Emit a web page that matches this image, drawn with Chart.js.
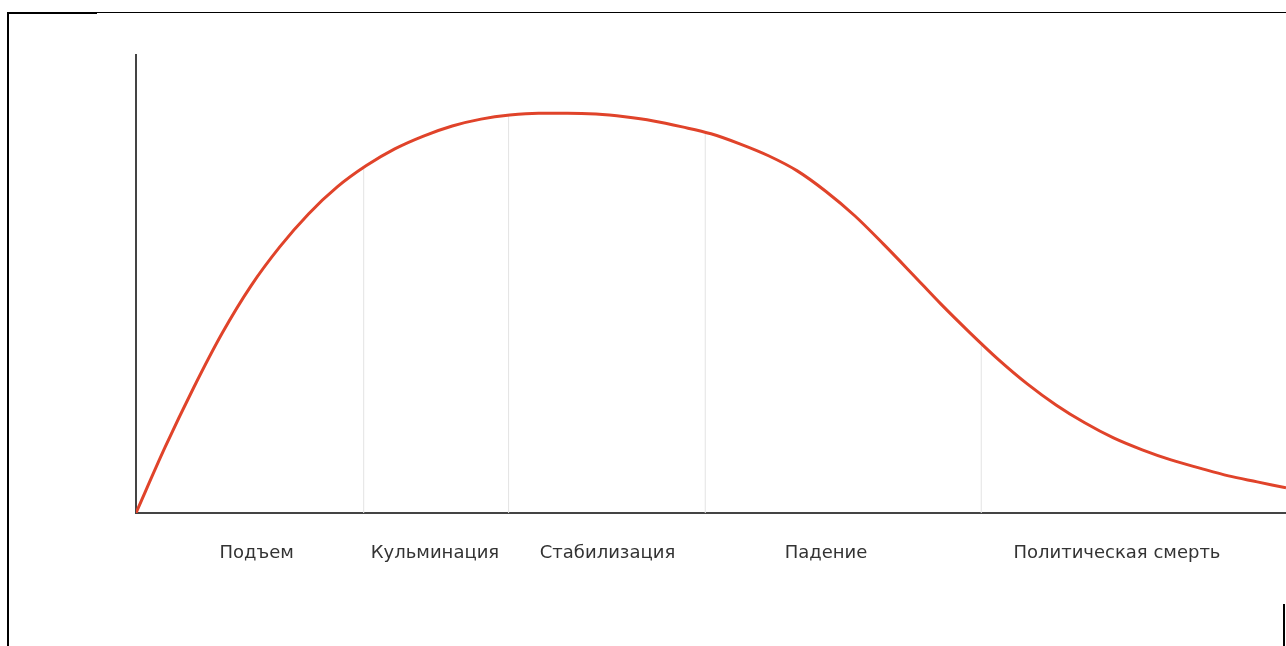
<!DOCTYPE html>
<html lang="ru">
<head>
<meta charset="utf-8">
<title>Политический цикл</title>
<script src="https://cdn.jsdelivr.net/npm/chart.js@4/dist/chart.umd.min.js"></script>
<style>
  html, body { margin: 0; padding: 0; background: #fff; }
  #wrap { position: relative; width: 1286px; height: 646px; overflow: hidden; }
  #cycle { position: absolute; left: 0; top: 0; }
  .frame { position: absolute; background: #000; }
</style>
</head>
<body>
<div id="wrap">
  <canvas id="cycle" width="1286" height="646"></canvas>
  <!-- рамка вокруг картинки -->
  <div class="frame" style="left:7px;top:12px;width:90px;height:2px;"></div>
  <div class="frame" style="left:97px;top:12px;width:1189px;height:1px;"></div>
  <div class="frame" style="left:7px;top:12px;width:2px;height:634px;"></div>
  <div class="frame" style="left:1283px;top:604px;width:2px;height:42px;"></div>
</div>
<script>
// ==============================
// Данные (ось X: 0..100, ось Y: 0..100)
// ==============================
const curveX = [0, 2.5, 5, 7.5, 10, 12.5, 15, 17.5, 20, 22.5, 25, 27.5, 30, 32.5, 35, 37.5,
  40, 42.5, 45, 47.5, 50, 52.5, 55, 57.5, 60, 62.5, 65, 67.5, 70, 72.5, 75, 77.5, 80,
  82.5, 85, 87.5, 90, 92.5, 95, 97.5, 100];
const curveY = [0, 14.2, 27.3, 39.3, 49.6, 58.1, 65.3, 71.2, 75.8, 79.5, 82.3, 84.5, 86.0,
  86.9, 87.3, 87.3, 87.1, 86.5, 85.6, 84.3, 82.8, 80.6, 78.0, 74.7, 70.2, 64.9, 58.7,
  52.2, 45.6, 39.4, 33.5, 28.2, 23.6, 19.7, 16.4, 13.8, 11.6, 9.8, 8.1, 6.8, 5.5];

// Границы этапов и высота линий-разделителей
const stageBounds = [19.8, 32.4, 49.5, 73.5];
const boundTops = [75.4, 86.9, 82.8, 36.8];

// Подписи этапов и их положение по оси X
const stageLabels = ['Подъем', 'Кульминация', 'Стабилизация', 'Падение', 'Политическая смерть'];
const labelPos = [10.5, 26.0, 41.0, 60.0, 85.3];

// Разделители — отдельные наборы данных из двух точек
const boundSets = stageBounds.map((b, i) => ({
  data: [{ x: b, y: 0 }, { x: b, y: boundTops[i] }],
  borderColor: '#e3e3e3',
  borderWidth: 1,
  pointRadius: 0,
  order: 2
}));

new Chart(document.getElementById('cycle').getContext('2d'), {
  type: 'line',
  data: {
    datasets: [
      {
        data: curveX.map((x, i) => ({ x: x, y: curveY[i] })),
        borderColor: '#e0432a',
        borderWidth: 3,
        pointRadius: 0,
        cubicInterpolationMode: 'monotone',
        order: 1
      },
      ...boundSets
    ]
  },
  options: {
    responsive: false,
    animation: false,
    events: [],
    layout: { padding: { left: 136, top: 55, right: 0, bottom: 0 } },
    plugins: { legend: { display: false }, tooltip: { enabled: false } },
    scales: {
      x: {
        type: 'linear',
        min: 0,
        max: 100,
        grid: { display: false, drawTicks: false },
        border: { display: true, color: '#444', width: 2 },
        afterBuildTicks: scale => { scale.ticks = labelPos.map(v => ({ value: v })); },
        afterFit: scale => { scale.height = 133; },
        ticks: {
          autoSkip: false,
          maxRotation: 0,
          padding: 30,
          color: '#333',
          font: { family: '"DejaVu Sans", sans-serif', size: 18 },
          callback: (v, i) => stageLabels[i]
        }
      },
      y: {
        min: 0,
        max: 100,
        grid: { display: false, drawTicks: false },
        border: { display: true, color: '#444', width: 2 },
        ticks: { display: false },
        afterFit: scale => { scale.width = 0; }
      }
    }
  }
});
</script>
</body>
</html>
